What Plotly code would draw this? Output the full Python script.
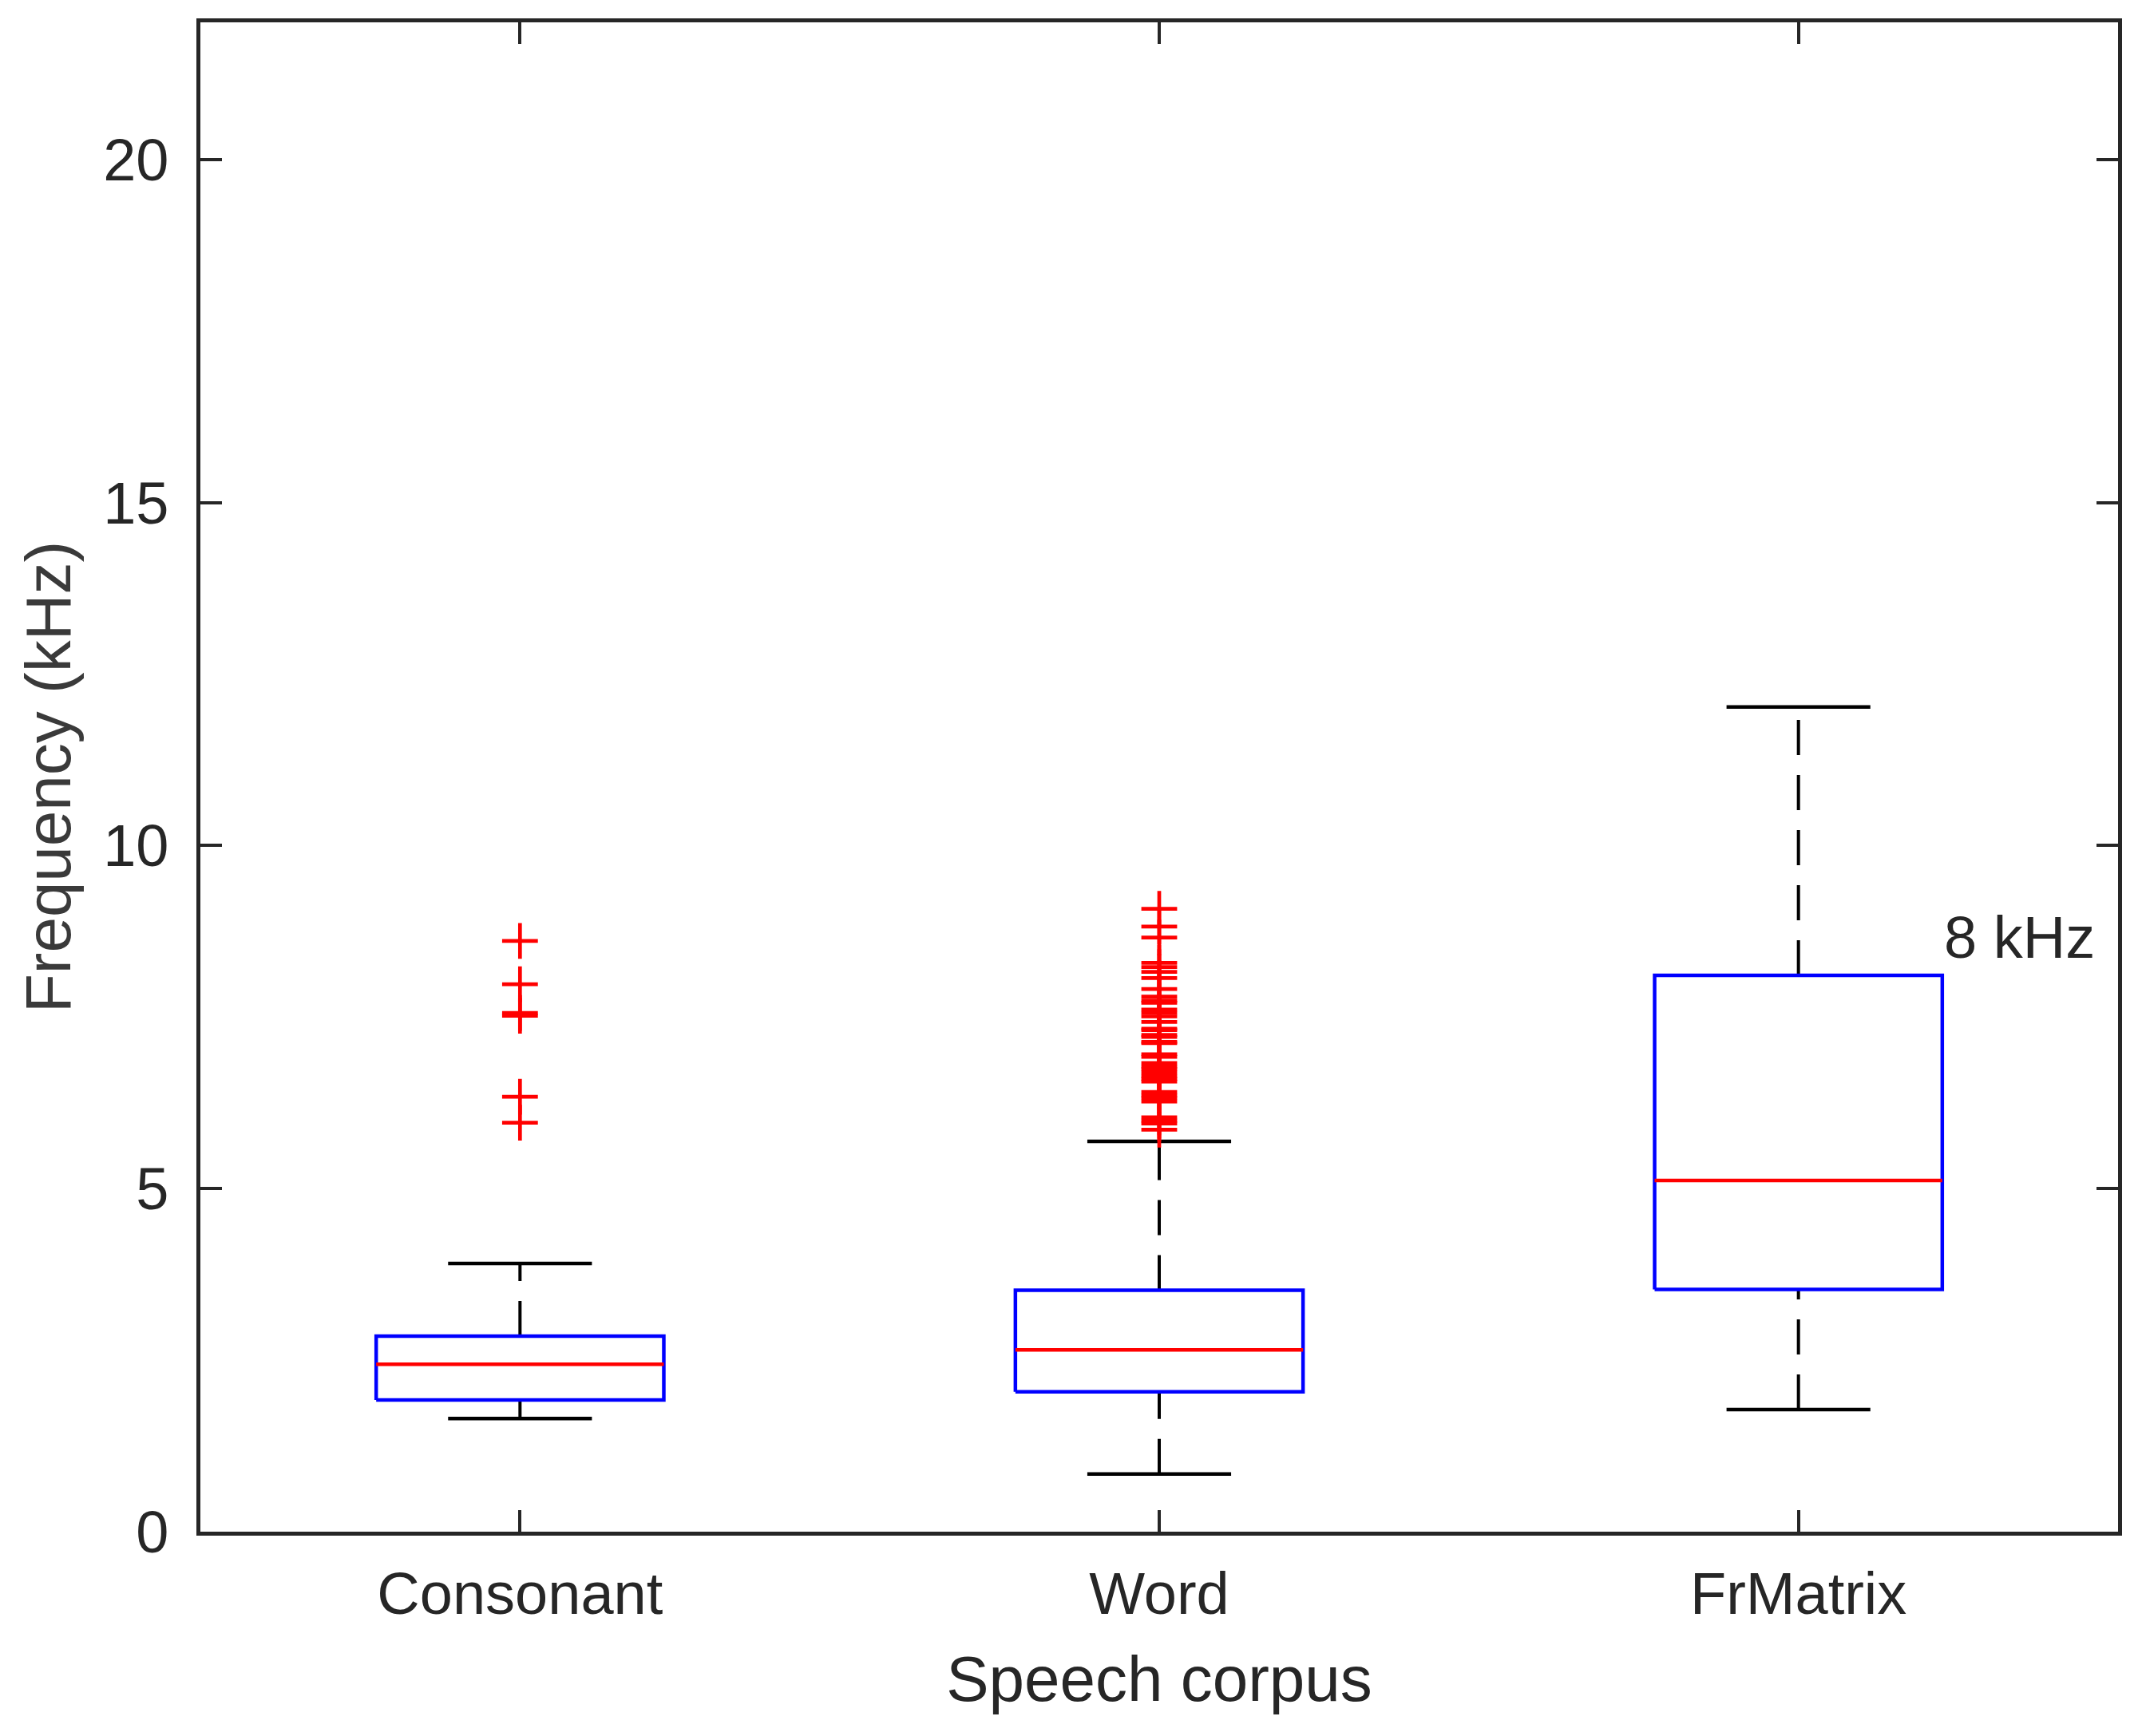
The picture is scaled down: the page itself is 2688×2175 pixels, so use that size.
import plotly.graph_objects as go

# Box statistics (kHz)
categories = ["Consonant", "Word", "FrMatrix"]
whisker_low = [1.65, 0.84, 1.78]
q1 = [1.92, 2.04, 3.53]
median = [2.44, 2.65, 5.12]
q3 = [2.85, 3.52, 8.11]
whisker_high = [3.91, 5.69, 12.02]

outliers_consonant = [8.61, 7.98, 7.56, 7.52, 6.34, 5.96]
outliers_word = [9.08, 8.82, 8.66, 8.29, 8.23, 8.16, 8.07, 7.91, 7.80, 7.74,
                 7.71, 7.61, 7.56, 7.51, 7.43, 7.33, 7.31, 7.24, 7.21, 7.14,
                 7.12, 6.96, 6.92, 6.83, 6.78, 6.74, 6.69, 6.64, 6.60, 6.56,
                 6.41, 6.36, 6.32, 6.27, 6.04, 5.99, 5.95, 5.86]
outliers_frmatrix = []
outliers = [outliers_consonant, outliers_word, outliers_frmatrix]

note_text = "8 kHz"
note_y = 8.66

y_ticks = [0, 5, 10, 15, 20]

TEXT = "#262626"
FONT = "Liberation Sans, Arial, sans-serif"
box_half = 0.225
cap_half = 0.1125
lw = 4.5

fig = go.Figure()

for i, name in enumerate(categories):
    p = i + 1
    # whiskers (dashed), drawn from lower value upward like MATLAB
    fig.add_trace(go.Scatter(
        x=[p, p, None, p, p],
        y=[whisker_low[i], q1[i], None, q3[i], whisker_high[i]],
        mode="lines", line=dict(color="black", width=4, dash="44px,25px"),
        hoverinfo="skip", showlegend=False))
    # caps
    fig.add_trace(go.Scatter(
        x=[p - cap_half, p + cap_half, None, p - cap_half, p + cap_half],
        y=[whisker_low[i], whisker_low[i], None, whisker_high[i], whisker_high[i]],
        mode="lines", line=dict(color="black", width=lw),
        hoverinfo="skip", showlegend=False))
    # box
    fig.add_trace(go.Scatter(
        x=[p - box_half, p + box_half, p + box_half, p - box_half, p - box_half],
        y=[q1[i], q1[i], q3[i], q3[i], q1[i]],
        mode="lines", line=dict(color="#0000ff", width=lw),
        hoverinfo="skip", showlegend=False, name=name))
    # median
    fig.add_trace(go.Scatter(
        x=[p - box_half, p + box_half],
        y=[median[i], median[i]],
        mode="lines", line=dict(color="#ff0000", width=lw),
        hoverinfo="skip", showlegend=False))

for i, vals in enumerate(outliers):
    if not vals:
        continue
    fig.add_trace(go.Scatter(
        x=[i + 1] * len(vals), y=vals, mode="markers",
        marker=dict(symbol="cross-thin", size=32, color="#ff0000",
                    line=dict(color="#ff0000", width=4.7)),
        hoverinfo="y", showlegend=False))

fig.add_annotation(x=len(categories) + box_half, y=note_y, text=note_text,
                   xanchor="left", yanchor="middle", showarrow=False,
                   font=dict(family=FONT, size=74, color=TEXT))

axis_common = dict(
    showline=True, linecolor=TEXT, linewidth=4.5, mirror="ticks",
    ticks="inside", ticklen=27, tickwidth=4, tickcolor=TEXT,
    showgrid=False, zeroline=False,
    tickfont=dict(family=FONT, size=74, color=TEXT),
)

fig.update_layout(
    width=2688, height=2175,
    margin=dict(l=243, r=43, t=20, b=264),
    paper_bgcolor="white", plot_bgcolor="white",
    font=dict(family=FONT, color=TEXT),
    xaxis=dict(range=[0.5, 3.5], tickvals=[1, 2, 3], ticktext=categories,
               ticklabelstandoff=9,
               title=dict(text="Speech corpus", standoff=40,
                          font=dict(family=FONT, size=80, color=TEXT)),
               **axis_common),
    yaxis=dict(range=[0, 22], tickvals=y_ticks, ticklabelstandoff=20,
               title=dict(text="Frequency (kHz)", standoff=16,
                          font=dict(family=FONT, size=80, color="#3a3a3a")),
               **axis_common),
)

fig.write_html("out.html")
